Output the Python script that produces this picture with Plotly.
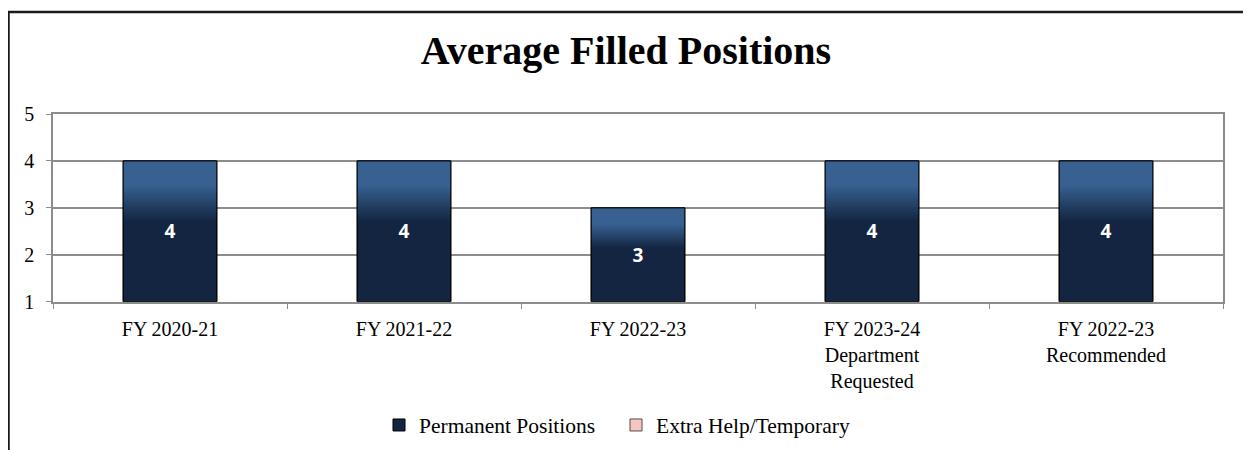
import plotly.graph_objects as go

categories = ["FY 2020-21", "FY 2021-22", "FY 2022-23",
              "FY 2023-24<br>Department<br>Requested", "FY 2022-23<br>Recommended"]
permanent = [4, 4, 3, 4, 4]
extra_help = [0, 0, 0, 0, 0]
y_tick_vals = [1, 2, 3, 4, 5]

y_min, y_max = 1, 5
DARK = (19, 37, 64)
LIGHT = (56, 97, 146)
DARK_TOP = 0.56   # fraction of bar height (from bottom) that is solid dark
LIGHT_BOTTOM = 0.82  # fraction where solid light begins
N_STEPS = 14
BAR_W = 0.4

def rgb(c):
    return "rgb(%d,%d,%d)" % tuple(int(round(v)) for v in c)

def mix(t):
    return tuple(DARK[i] + (LIGHT[i] - DARK[i]) * t for i in range(3))

heights = [v - y_min for v in permanent]

fig = go.Figure()

# base bar (dark) - carries the legend entry
fig.add_trace(go.Bar(
    x=categories, y=heights, base=[y_min] * len(permanent),
    name="Permanent Positions", width=BAR_W,
    marker=dict(color=rgb(DARK), line=dict(color="black", width=1)),
    legendgroup="perm", hoverinfo="skip",
))

# gradient bands, each drawn from its start up to bar top
for k in range(N_STEPS + 1):
    t = k / N_STEPS
    f0 = DARK_TOP + (LIGHT_BOTTOM - DARK_TOP) * t
    fig.add_trace(go.Bar(
        x=categories,
        y=[h * (1 - f0) for h in heights],
        base=[y_min + h * f0 for h in heights],
        width=BAR_W, showlegend=False, legendgroup="perm", hoverinfo="skip",
        marker=dict(color=rgb(mix(t)), line=dict(width=0)),
    ))

# outline + value labels
fig.add_trace(go.Bar(
    x=categories, y=heights, base=[y_min] * len(permanent),
    width=BAR_W, showlegend=False, legendgroup="perm",
    marker=dict(color="rgba(0,0,0,0)", line=dict(color="black", width=1)),
    text=[str(v) for v in permanent], textposition="inside",
    insidetextanchor="middle", constraintext="none",
    textfont=dict(family="Open Sans", size=19, color="white", weight="bold"),
    hovertemplate="%{x}: %{text}<extra></extra>",
))

fig.add_trace(go.Bar(
    x=categories, y=extra_help, name="Extra Help/Temporary", width=BAR_W,
    marker=dict(color="#f4c6c4", line=dict(color="#5a4a4a", width=1)),
))

PL, PR, PT, PB = 45, 1215, 106, 300
W, H = 1251, 450
pw, ph = PR - PL, PB - PT

def px_x(p):
    return (p - PL) / pw

def px_y(p):
    return (PB - p) / ph

# chart border (right and bottom edges lie outside the visible window)
fig.add_shape(type="rect", xref="paper", yref="paper",
              x0=px_x(0.5), x1=px_x(1300), y0=px_y(500), y1=px_y(0.5),
              line=dict(color="#1a1a1a", width=2.5), fillcolor="rgba(0,0,0,0)",
              layer="above")

fig.update_layout(
    width=W, height=H,
    margin=dict(l=PL, r=W - PR, t=PT, b=H - PB),
    paper_bgcolor="white", plot_bgcolor="white",
    barmode="overlay",
    font=dict(family="Liberation Serif", size=20, color="black"),
    title=dict(text="<b>Average Filled Positions</b>",
               font=dict(family="Liberation Serif", size=40, color="black"),
               x=618 / W, xref="container", xanchor="center",
               y=1 - 42 / H, yref="container", yanchor="middle"),
    showlegend=True,
    legend=dict(orientation="h", x=608 / W, xanchor="center", xref="container",
                y=1 - 417 / H, yref="container", yanchor="middle",
                font=dict(family="Liberation Serif", size=21.5, color="black"),
                entrywidth=192,
                traceorder="normal", itemclick=False, itemdoubleclick=False),
)

fig.update_xaxes(type="category", tickson="boundaries", ticks="outside",
                 ticklen=5, tickcolor="#8c8c8c", showline=True,
                 linecolor="#8c8c8c", linewidth=1.5, mirror=True,
                 showgrid=False, fixedrange=True, ticklabelstandoff=8)
fig.update_yaxes(range=[y_min, y_max], tickvals=y_tick_vals, ticks="outside",
                 ticklen=5, tickcolor="#8c8c8c", showline=True,
                 linecolor="#8c8c8c", linewidth=1.5, mirror=True,
                 gridcolor="#8c8c8c", gridwidth=1.5, zeroline=False,
                 ticklabelstandoff=8, fixedrange=True)

fig.write_html("out.html")
